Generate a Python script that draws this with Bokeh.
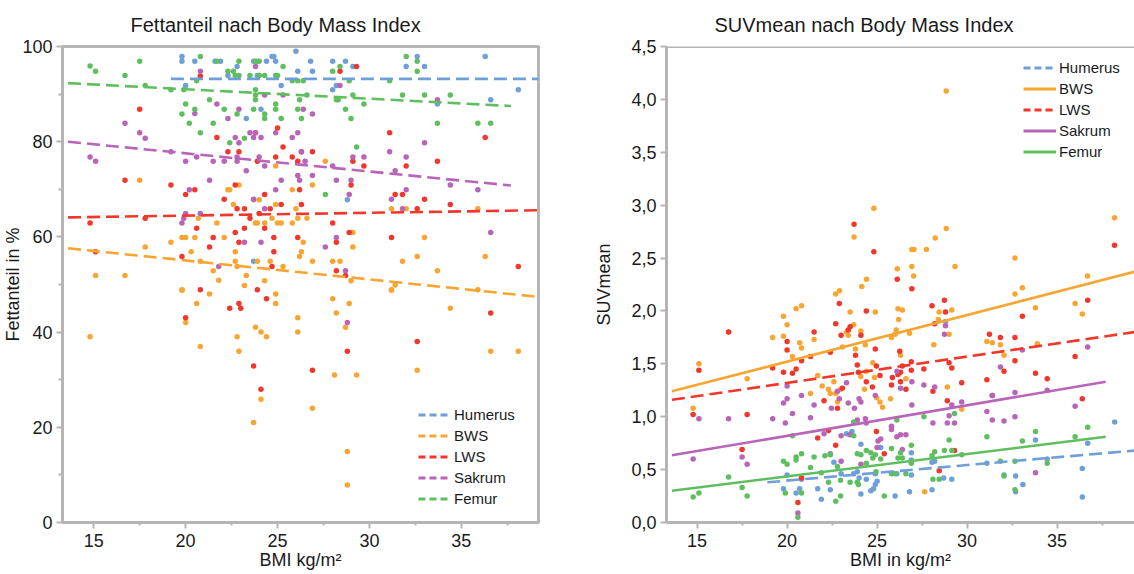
from bokeh.plotting import figure
from bokeh.models import (FixedTicker, Legend, LegendItem, Range1d,
                          CustomJSTickFormatter, Span)
from bokeh.layouts import row
from bokeh.embed import file_html
from bokeh.resources import INLINE

# ---------------- data ----------------
series_names = ["Humerus", "BWS", "LWS", "Sakrum", "Femur"]
series_colors = ["#6f9fd8", "#f8a531", "#f1372b", "#b864b8", "#5fbf5f"]

x_ticks = [15, 20, 25, 30, 35]
x_minor_ticks = [17.5, 22.5, 27.5, 32.5, 37.5]
fat_ticks = [0, 20, 40, 60, 80, 100]
fat_minor_ticks = [10, 30, 50, 70, 90]
suv_ticks = [0.0, 0.5, 1.0, 1.5, 2.0, 2.5, 3.0, 3.5, 4.0, 4.5]

# Fettanteil (%) vs BMI  -- (BMI, value)
fat_humerus = [(19.8, 97.9), (19.8, 96.9), (20.0, 91.8), (20.5, 96.9), (21.6, 96.9), (21.9, 96.9),
               (22.3, 93.9), (22.8, 95.8), (23.7, 96.9), (23.9, 96.9), (24.4, 96.9), (24.7, 97.9),
               (24.8, 97.9), (24.9, 96.9), (23.9, 93.9), (24.0, 93.9), (25.2, 91.8), (24.1, 86.8),
               (23.3, 84.9), (26.0, 99.0), (26.1, 94.8), (26.8, 96.9), (26.9, 94.8), (28.0, 96.9),
               (28.7, 96.9), (28.0, 90.9), (28.2, 91.8), (29.1, 95.8), (32.0, 95.8), (32.6, 97.9),
               (33.0, 95.8), (33.7, 87.9), (36.3, 97.9), (36.6, 88.8), (38.1, 90.9), (28.8, 67.8),
               (23.7, 54.9)]
fat_bws = [(17.5, 71.9), (17.8, 57.9), (15.1, 51.9), (16.7, 51.9), (19.2, 58.9), (19.8, 59.9),
           (20.0, 59.9), (19.8, 48.9), (20.3, 56.9), (20.5, 59.9), (20.7, 63.9), (20.8, 54.9),
           (21.5, 52.9), (21.7, 62.9), (21.8, 50.9), (22.1, 59.9), (22.3, 69.9), (22.4, 69.9),
           (22.6, 66.8), (22.7, 56.9), (22.7, 54.9), (22.8, 53.8), (22.9, 70.9), (23.2, 49.8),
           (23.3, 51.9), (23.7, 67.8), (23.8, 62.9), (23.9, 62.9), (23.9, 54.9), (24.0, 67.8),
           (24.3, 50.8), (24.3, 62.9), (24.6, 54.9), (24.7, 63.9), (24.9, 66.8), (25.0, 62.9),
           (24.9, 74.9), (25.2, 62.9), (25.3, 53.8), (25.8, 69.9), (25.8, 62.9), (26.0, 65.9),
           (26.1, 63.9), (26.2, 55.9), (26.3, 56.9), (26.4, 58.9), (26.6, 63.9), (26.9, 70.9),
           (26.9, 54.9), (27.6, 75.9), (28.0, 54.9), (28.4, 54.9), (29.0, 50.8), (29.1, 60.9),
           (29.1, 57.9), (31.2, 65.9), (31.2, 48.9), (31.4, 49.9), (31.8, 54.9), (32.0, 65.9),
           (32.6, 55.9), (33.0, 59.9), (33.7, 52.9), (35.9, 65.9), (36.3, 55.9), (35.9, 48.9),
           (14.8, 39.0), (19.8, 48.8), (21.3, 48.0), (20.6, 46.0), (20.0, 42.0), (20.8, 37.0),
           (22.8, 39.0), (22.9, 36.0), (23.8, 41.0), (24.1, 40.0), (24.4, 39.0), (24.9, 48.0),
           (24.9, 46.0), (23.7, 21.0), (24.1, 25.9), (26.1, 43.0), (26.1, 40.0), (26.9, 24.0),
           (28.0, 47.0), (28.2, 44.0), (28.7, 41.0), (28.9, 46.0), (28.1, 31.0), (29.3, 31.0),
           (28.8, 14.9), (28.8, 7.9), (31.2, 48.8), (32.6, 32.0), (34.4, 45.0), (36.6, 36.0),
           (38.1, 36.0)]
fat_lws = [(14.8, 62.9), (15.1, 56.9), (17.5, 86.8), (16.7, 71.9), (17.8, 63.9), (19.2, 70.9),
           (19.8, 55.9), (20.0, 68.9), (20.5, 69.9), (20.6, 61.8), (20.8, 93.8), (20.8, 48.9),
           (21.3, 57.9), (21.5, 59.9), (21.7, 80.9), (22.1, 67.9), (22.3, 77.9), (22.7, 60.9),
           (22.7, 70.9), (22.8, 65.9), (22.9, 77.9), (22.9, 58.9), (23.2, 65.9), (23.2, 61.8),
           (23.5, 63.9), (23.8, 81.9), (23.9, 75.9), (23.9, 48.9), (24.0, 64.9), (24.3, 61.8),
           (24.3, 68.9), (24.6, 65.9), (24.8, 59.9), (24.8, 56.9), (24.7, 53.8), (24.9, 76.8),
           (25.0, 82.9), (25.2, 66.8), (25.3, 78.9), (25.8, 76.8), (26.1, 75.9), (26.1, 59.9),
           (26.2, 69.9), (26.3, 66.8), (26.3, 77.9), (26.9, 77.9), (28.0, 62.9), (28.2, 52.9),
           (28.2, 58.9), (28.4, 94.8), (28.7, 51.9), (28.9, 60.9), (29.0, 70.9), (29.1, 75.9),
           (29.3, 95.8), (29.7, 74.9), (31.1, 81.9), (31.2, 59.9), (31.4, 68.9), (31.8, 68.9),
           (32.0, 74.9), (32.6, 65.9), (33.0, 67.9), (33.7, 75.9), (34.4, 66.8), (36.3, 80.9),
           (38.1, 53.8), (20.0, 43.0), (22.4, 45.0), (22.9, 46.0), (23.0, 45.0), (24.4, 47.0),
           (23.7, 32.9), (24.1, 28.0), (26.9, 32.0), (28.8, 36.0), (32.6, 38.0), (36.6, 44.0)]
fat_sakrum = [(14.8, 76.8), (15.1, 75.9), (16.7, 83.9), (17.5, 81.9), (17.8, 80.7), (19.2, 77.9),
              (19.8, 62.9), (19.9, 63.9), (20.0, 64.9), (20.2, 69.9), (20.5, 85.9), (20.0, 75.9),
              (20.6, 76.8), (20.8, 94.8), (20.8, 64.9), (21.3, 71.9), (21.5, 75.9), (21.7, 87.9),
              (21.8, 53.8), (22.1, 75.9), (22.3, 84.9), (22.7, 80.9), (22.8, 76.8), (22.8, 75.9),
              (22.9, 79.8), (22.9, 86.8), (23.2, 58.9), (23.3, 73.9), (23.5, 81.9), (23.7, 80.9),
              (23.7, 67.9), (23.8, 95.8), (23.8, 81.9), (24.0, 76.8), (24.1, 80.9), (24.1, 58.9),
              (24.3, 65.9), (24.3, 89.8), (24.3, 74.9), (24.9, 81.9), (24.9, 69.9), (25.2, 71.9),
              (25.3, 89.8), (25.8, 80.9), (26.1, 81.9), (26.1, 72.9), (26.2, 71.9), (26.3, 77.9),
              (26.4, 86.8), (26.5, 75.9), (26.9, 85.8), (26.9, 72.9), (27.6, 57.9), (28.0, 74.9),
              (28.2, 59.9), (28.2, 71.9), (28.4, 91.8), (28.7, 52.9), (28.9, 68.9), (29.0, 71.9),
              (29.1, 76.8), (29.7, 76.8), (31.1, 77.9), (31.2, 67.9), (31.4, 73.9), (31.8, 65.9),
              (32.0, 76.8), (32.0, 69.9), (33.0, 79.8), (33.7, 88.8), (34.4, 70.9), (35.9, 69.9),
              (36.6, 60.9), (28.8, 42.0)]
fat_femur = [(14.8, 95.9), (15.1, 94.8), (16.7, 93.9), (17.5, 96.9), (17.8, 91.8), (19.2, 90.9),
             (19.9, 90.9), (19.8, 85.8), (20.0, 87.9), (20.2, 83.9), (20.5, 86.8), (20.8, 97.9),
             (20.6, 92.8), (20.8, 81.9), (21.3, 88.8), (21.5, 83.9), (21.7, 96.9), (22.1, 86.8),
             (22.3, 94.8), (22.4, 79.8), (22.6, 94.8), (22.7, 93.9), (22.8, 85.8), (22.9, 93.9),
             (22.9, 96.9), (23.2, 80.7), (23.5, 93.9), (23.7, 86.8), (23.8, 90.9), (23.8, 89.8),
             (23.8, 96.9), (24.0, 96.9), (23.8, 88.8), (24.0, 93.9), (24.3, 93.9), (24.3, 85.8),
             (24.3, 84.9), (24.9, 93.9), (25.0, 93.9), (24.9, 87.9), (24.9, 86.8), (25.2, 84.9),
             (25.3, 95.8), (25.8, 92.8), (26.1, 92.8), (26.1, 86.8), (26.2, 88.8), (26.3, 84.9),
             (26.4, 92.8), (26.6, 89.8), (27.6, 68.9), (28.0, 94.8), (28.2, 88.8), (28.3, 88.8),
             (28.4, 95.8), (28.7, 86.8), (28.9, 92.8), (29.0, 84.9), (29.1, 89.8), (29.3, 78.9),
             (29.7, 87.9), (31.1, 92.8), (31.8, 89.8), (32.0, 97.9), (32.6, 96.9), (32.6, 94.8),
             (33.0, 89.8), (33.7, 83.9), (34.4, 89.8), (35.9, 83.9), (36.6, 83.9)]

# Trend lines (fitted): (BMI start, value start, BMI end, value end)
fat_trend_humerus = (19.2, 93.2, 39.2, 93.2)
fat_trend_bws = (13.6, 57.6, 39.2, 47.4)
fat_trend_lws = (13.6, 64.1, 39.2, 65.6)
fat_trend_sakrum = (13.6, 80.0, 37.7, 70.8)
fat_trend_femur = (13.6, 92.3, 37.7, 87.5)

# SUVmean vs BMI -- (BMI, value)
suv_humerus = [(19.8, 0.32), (20.0, 0.45), (20.5, 0.28), (20.7, 0.32), (20.8, 0.41), (21.7, 0.32),
               (21.9, 0.22), (22.4, 0.31), (22.6, 0.57), (23.0, 0.46), (23.3, 0.84), (23.6, 0.86),
               (23.7, 0.46), (23.9, 0.48), (24.0, 0.42), (24.1, 0.27), (24.1, 0.74), (24.4, 0.41),
               (24.65, 0.30), (24.8, 0.32), (24.9, 0.36), (25.0, 0.39), (24.9, 0.46), (25.2, 0.71),
               (25.8, 0.90), (26.0, 0.25), (26.1, 0.46), (26.9, 0.66), (26.9, 0.45), (26.9, 0.59),
               (26.8, 0.29), (28.05, 0.57), (28.2, 0.58), (28.05, 0.31), (28.8, 1.90), (28.7, 0.42),
               (29.15, 0.41), (31.1, 0.56), (32.05, 0.45), (32.7, 0.44), (32.7, 0.29), (33.1, 0.36),
               (33.8, 0.78), (34.45, 0.60), (36.4, 0.51), (36.4, 0.24), (36.7, 0.75), (38.2, 0.95)]
suv_bws = [(28.84, 4.08), (23.72, 2.70), (24.82, 2.97), (28.84, 2.78), (28.23, 2.69), (26.93, 2.58),
           (27.05, 2.58), (27.74, 2.58), (26.12, 2.40), (26.93, 2.42), (29.33, 2.42), (27.03, 2.33),
           (24.41, 2.30), (24.15, 2.23), (22.91, 2.19), (32.66, 2.50), (33.07, 2.22), (36.69, 2.33),
           (38.19, 2.88),
           (14.78, 1.08), (15.1, 1.50), (17.78, 1.36), (16.75, 1.80), (19.2, 1.75), (19.8, 1.95),
           (19.8, 1.76), (20.0, 1.87), (20.3, 1.57), (20.5, 2.02), (20.7, 1.70), (20.8, 2.05),
           (20.8, 1.65), (21.3, 1.22), (21.5, 1.73), (21.7, 1.39), (21.95, 1.29), (22.3, 1.26),
           (22.4, 1.22), (22.6, 1.33), (22.7, 2.16), (22.7, 1.22), (22.8, 1.14), (22.97, 1.26),
           (23.07, 1.66), (23.3, 1.80), (23.4, 1.77), (23.5, 1.99), (23.7, 1.87), (23.8, 1.64),
           (24.1, 1.81), (24.1, 1.38), (24.3, 1.26), (24.35, 1.68), (24.4, 1.43), (24.76, 1.51),
           (24.86, 1.37), (24.9, 1.99), (24.98, 1.18), (25.16, 1.14), (25.3, 1.09), (25.75, 1.17),
           (25.8, 1.75), (26.0, 1.78), (26.06, 1.82), (26.16, 2.02), (26.2, 1.92), (26.3, 1.58),
           (26.4, 2.01), (26.6, 1.36), (26.8, 1.79), (27.64, 0.29), (28.15, 1.68), (28.4, 1.92),
           (28.45, 1.99), (28.9, 1.28), (29.0, 1.78), (29.15, 2.01), (29.7, 1.07), (31.1, 1.71),
           (31.4, 1.70), (31.85, 1.68), (32.05, 1.58), (32.66, 2.16), (33.8, 2.03), (33.9, 1.69),
           (36.0, 2.07), (36.4, 1.97)]
suv_lws = [(23.72, 2.82), (24.82, 2.56), (26.12, 2.30), (26.93, 2.21), (38.19, 2.62),
           (14.78, 1.02), (15.1, 1.44), (16.75, 1.80), (17.5, 0.69), (17.78, 1.02), (19.2, 1.46),
           (19.8, 1.42), (20.0, 1.71), (20.0, 1.63), (20.3, 1.41), (20.5, 1.45), (20.6, 0.19),
           (20.8, 0.42), (20.8, 1.53), (21.3, 1.57), (21.5, 1.80), (21.7, 0.80), (22.05, 1.15),
           (22.3, 0.87), (22.4, 1.61), (22.7, 1.88), (22.7, 0.73), (22.8, 1.08), (22.9, 2.07),
           (23.0, 1.77), (23.07, 1.27), (23.4, 1.82), (23.5, 1.85), (23.8, 1.58), (23.9, 1.49),
           (23.96, 1.42), (24.1, 1.77), (24.4, 1.33), (24.4, 2.00), (24.74, 1.28), (24.9, 1.64),
           (24.96, 1.48), (24.96, 0.86), (25.16, 1.39), (25.4, 0.65), (25.8, 1.30), (25.85, 1.37),
           (26.16, 1.40), (26.26, 1.62), (26.3, 1.42), (26.3, 1.33), (26.4, 1.48), (26.6, 1.26),
           (26.9, 1.44), (26.9, 1.52), (27.6, 1.45), (28.05, 2.05), (28.1, 1.24), (28.2, 1.88),
           (28.45, 0.49), (28.74, 2.10), (28.8, 1.99), (28.9, 1.15), (29.0, 1.51), (29.15, 1.46),
           (29.3, 0.68), (29.7, 1.32), (31.1, 1.35), (31.24, 1.78), (31.4, 1.20), (31.85, 1.75),
           (32.05, 1.43), (32.66, 1.53), (32.66, 1.75), (33.07, 1.95), (33.8, 1.41), (34.45, 1.36),
           (36.0, 1.57), (36.4, 1.17), (36.7, 2.10)]
suv_sakrum = [(14.78, 0.60), (15.1, 0.98), (16.75, 0.98), (17.5, 0.62), (17.78, 0.55), (19.2, 0.98),
              (19.9, 0.94), (20.0, 1.29), (20.0, 1.17), (19.8, 1.13), (20.3, 1.03), (20.8, 1.20),
              (20.6, 0.09), (21.3, 0.99), (21.5, 1.11), (22.05, 0.84), (22.4, 0.65), (22.46, 1.08),
              (22.8, 1.24), (22.9, 1.17), (23.0, 0.82), (23.0, 0.58), (23.3, 1.32), (23.4, 1.13),
              (23.5, 0.83), (23.74, 1.08), (23.9, 0.97), (24.0, 1.17), (24.1, 1.14), (24.1, 0.55),
              (24.35, 0.98), (24.4, 0.94), (24.9, 1.20), (25.0, 0.71), (25.05, 0.77), (25.2, 0.79),
              (25.8, 0.91), (25.8, 0.88), (26.1, 1.43), (26.1, 0.81), (26.3, 1.27), (26.3, 0.83),
              (26.4, 0.69), (26.6, 0.83), (26.93, 1.11), (26.93, 1.33), (27.6, 1.30), (28.1, 0.94),
              (28.2, 1.28), (28.74, 1.78), (28.8, 1.86), (28.9, 0.94), (29.0, 1.01), (29.15, 1.11),
              (29.3, 0.94), (29.7, 1.14), (31.1, 1.05), (31.4, 0.97), (31.4, 1.20), (31.85, 1.47),
              (32.05, 0.96), (32.66, 1.00), (32.66, 1.23), (33.07, 1.63), (33.8, 0.47), (34.45, 1.25),
              (36.0, 1.10), (36.7, 1.66)]
suv_femur = [(14.78, 0.24), (15.1, 0.28), (16.75, 0.43), (17.5, 0.33), (17.78, 0.25), (19.8, 0.58),
             (19.9, 0.28), (20.0, 0.55), (20.3, 0.82), (20.5, 0.62), (20.5, 0.59), (20.6, 0.05),
             (20.8, 0.65), (20.8, 0.28), (21.3, 0.52), (21.5, 0.62), (21.9, 0.47), (22.1, 0.63),
             (22.3, 0.38), (22.4, 0.64), (22.7, 0.20), (22.8, 0.53), (22.97, 0.25), (22.97, 0.40),
             (23.5, 0.38), (23.7, 0.95), (23.7, 0.82), (23.9, 0.65), (23.9, 0.38), (23.96, 0.36),
             (24.1, 0.64), (24.4, 0.56), (24.4, 0.68), (24.65, 0.66), (24.76, 0.61), (24.9, 0.64),
             (24.94, 0.48), (25.2, 0.60), (25.4, 0.25), (25.8, 0.46), (25.8, 0.70), (26.0, 0.46),
             (26.1, 0.97), (26.16, 0.61), (26.3, 0.66), (26.4, 0.61), (26.6, 0.46), (26.9, 0.73),
             (26.9, 0.56), (27.6, 1.00), (28.05, 0.63), (28.1, 0.41), (28.2, 0.67), (28.45, 0.41),
             (28.74, 0.68), (29.0, 0.78), (29.15, 0.68), (29.3, 1.03), (29.7, 0.64), (31.1, 0.81),
             (31.85, 0.58), (32.05, 0.44), (32.66, 0.58), (32.66, 0.31), (33.07, 0.77), (33.8, 0.86),
             (34.45, 0.56), (36.0, 0.81), (36.7, 0.90)]

suv_trend_humerus = (18.9, 0.38, 39.3, 0.68)
suv_trend_bws = (13.6, 1.24, 39.3, 2.37)
suv_trend_lws = (13.6, 1.16, 39.3, 1.80)
suv_trend_sakrum = (13.6, 0.635, 37.7, 1.33)
suv_trend_femur = (13.6, 0.30, 37.7, 0.81)

# ---------------- styling ----------------
FONT = "Liberation Sans"
AXIS_COLOR = "#b5b5b5"
TEXT_COLOR = "#1a1a1a"
NAN = float("nan")


def style_axes(p, xlabel, ylabel, yticks, yminor, ylabel_standoff, yformatter=None):
    p.xgrid.visible = False
    p.ygrid.visible = False
    xa = p.xaxis[0]
    xa.ticker = FixedTicker(ticks=x_ticks, minor_ticks=x_minor_ticks)
    ya = p.yaxis[0]
    ya.ticker = FixedTicker(ticks=yticks, minor_ticks=yminor)
    if yformatter is not None:
        ya.formatter = yformatter
    for ax in (xa, ya):
        ax.axis_line_color = AXIS_COLOR
        ax.axis_line_width = 3
        ax.major_tick_line_color = AXIS_COLOR
        ax.major_tick_line_width = 2
        ax.minor_tick_line_color = AXIS_COLOR
        ax.minor_tick_line_width = 2
        ax.major_tick_in = 0
        ax.minor_tick_in = 0
        ax.major_label_text_font = FONT
        ax.major_label_text_font_size = "18px"
        ax.major_label_text_color = TEXT_COLOR
        ax.axis_label_text_font = FONT
        ax.axis_label_text_font_size = "18px"
        ax.axis_label_text_font_style = "normal"
        ax.axis_label_text_color = TEXT_COLOR
    xa.major_tick_out = 6
    xa.minor_tick_out = 3
    ya.major_tick_out = 6
    ya.minor_tick_out = 4
    xa.major_label_standoff = 5
    ya.major_label_standoff = 4
    xa.axis_label = xlabel
    ya.axis_label = ylabel
    xa.axis_label_standoff = 0
    ya.axis_label_standoff = ylabel_standoff


def style_title(p, text, offset):
    p.title.text = text
    p.title.align = "left"
    p.title.offset = offset
    p.title.text_font = FONT
    p.title.text_font_size = "20px"
    p.title.text_font_style = "normal"
    p.title.text_color = TEXT_COLOR
    p.title.standoff = 22


def add_series(p, data_list, trend_list, dashes, legend_dashes, legend_loc):
    items = []
    for color, data in zip(series_colors, data_list):
        p.scatter([d[0] for d in data], [d[1] for d in data], size=5.5,
                  fill_color=color, line_color=None)
    for name, color, trend, dash, ldash in zip(series_names, series_colors,
                                               trend_list, dashes, legend_dashes):
        p.line([trend[0], trend[2]], [trend[1], trend[3]], line_color=color,
               line_width=2.6, line_dash=dash)
        # legend-only sample line (no data drawn in the plot)
        r = p.line([NAN], [NAN], line_color=color, line_width=3, line_dash=ldash)
        items.append(LegendItem(label=name, renderers=[r]))
    leg = Legend(items=items, location=legend_loc, border_line_color=None,
                 background_fill_alpha=0, padding=0, margin=0, spacing=0,
                 glyph_width=33, glyph_height=21, label_height=21, label_standoff=3,
                 label_text_font=FONT, label_text_font_size="15px",
                 label_text_color=TEXT_COLOR)
    p.add_layout(leg)


# ---------------- left chart ----------------
p1 = figure(width=567, height=574, x_range=Range1d(13.3, 39.2), y_range=Range1d(0, 100),
            output_backend="svg", toolbar_location=None,
            min_border_left=62, min_border_right=29, min_border_top=45, min_border_bottom=52)
style_title(p1, "Fettanteil nach Body Mass Index", 68)
p1.outline_line_color = AXIS_COLOR
p1.outline_line_width = 3
p1.outline_line_alpha = 1
style_axes(p1, "BMI kg/m²", "Fettanteil in %", fat_ticks, fat_minor_ticks, -4)
add_series(p1, [fat_humerus, fat_bws, fat_lws, fat_sakrum, fat_femur],
           [fat_trend_humerus, fat_trend_bws, fat_trend_lws, fat_trend_sakrum, fat_trend_femur],
           ["13 6"] * 5, ["7 4"] * 5, (356, 13))

# ---------------- right chart ----------------
p2 = figure(width=567, height=574, x_range=Range1d(13.3, 39.3), y_range=Range1d(0, 4.5),
            output_backend="svg", toolbar_location=None,
            min_border_left=99, min_border_right=0, min_border_top=45, min_border_bottom=52)
style_title(p2, "SUVmean nach Body Mass Index", 48)
p2.outline_line_color = None
p2.add_layout(Span(location=4.5, dimension="width", line_color=AXIS_COLOR, line_width=3))
style_axes(p2, "BMI in kg/m²", "SUVmean", suv_ticks, [], 14,
           CustomJSTickFormatter(code="return tick.toFixed(1).replace('.', ',');"))
add_series(p2, [suv_humerus, suv_bws, suv_lws, suv_sakrum, suv_femur],
           [suv_trend_humerus, suv_trend_bws, suv_trend_lws, suv_trend_sakrum, suv_trend_femur],
           ["13 6", "solid", "13 6", "solid", "solid"],
           ["7 4", "solid", "7 4", "solid", "solid"], (357, 360))

layout = row(p1, p2)
open("out.html", "w").write(file_html(layout, INLINE))
